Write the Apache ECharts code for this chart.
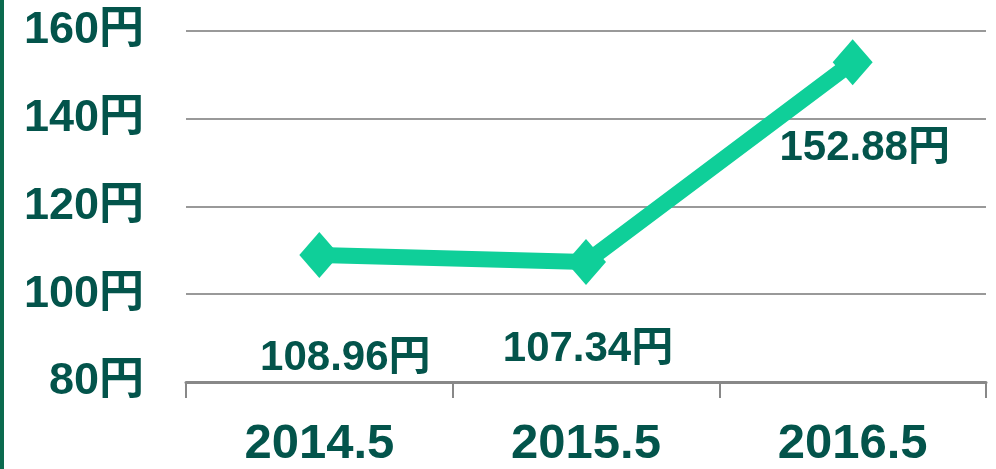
<!DOCTYPE html>
<html>
<head>
<meta charset="utf-8">
<script src="https://cdn.jsdelivr.net/npm/echarts@6/dist/echarts.min.js"></script>
<style>
  html, body { margin: 0; padding: 0; background: #fff; }
  #wrap { position: relative; width: 996px; height: 469px; }
  #bar { position: absolute; left: 0; top: 0; width: 4px; height: 469px; background: #0b6b4f; }
  #chart { position: absolute; left: 0; top: 0; width: 996px; height: 469px; }
</style>
</head>
<body>
<div id="wrap">
  <div id="chart"></div>
  <div id="bar"></div>
</div>
<script>
// 株価データ
const categories = ['2014.5', '2015.5', '2016.5'];
const prices = [108.96, 107.34, 152.88];
const yTicks = [80, 100, 120, 140, 160];

const textColor = '#03544b';
const lineColor = '#0fcf99';
const font = 'Liberation Sans, Noto Sans CJK JP';

// ラベルの位置ずれ (点からの距離)
const labelOffsets = [[26, 103], [2, 87], [12, 86]];

const chart = echarts.init(document.getElementById('chart'));

const option = {
  animation: false,
  grid: { left: 186, right: 10, top: 31, bottom: 85 },
  xAxis: {
    type: 'category',
    data: categories,
    boundaryGap: true,
    axisLine: { lineStyle: { color: '#888', width: 3 } },
    axisTick: { show: true, inside: false, length: 16, lineStyle: { color: '#888', width: 2 } },
    axisLabel: {
      margin: 38,
      color: textColor,
      fontFamily: font,
      fontWeight: 'bold',
      fontSize: 49
    }
  },
  yAxis: {
    type: 'value',
    min: yTicks[0],
    max: yTicks[yTicks.length - 1],
    interval: 20,
    axisLine: { show: false },
    axisTick: { show: false },
    splitLine: { lineStyle: { color: '#999', width: 2 } },
    axisLabel: {
      margin: 42,
      color: textColor,
      fontFamily: font,
      fontWeight: 'bold',
      fontSize: 45,
      formatter: v => v + '円'
    }
  },
  series: [{
    type: 'line',
    data: prices.map((v, i) => ({
      value: v,
      label: { offset: labelOffsets[i] }
    })),
    symbol: 'diamond',
    symbolSize: [40, 46],
    lineStyle: { color: lineColor, width: 16 },
    itemStyle: { color: lineColor },
    label: {
      show: true,
      position: 'inside',
      color: textColor,
      fontFamily: font,
      fontWeight: 'bold',
      fontSize: 42,
      formatter: p => p.value.toFixed(2) + '円'
    },
    z: 3
  }]
};

chart.setOption(option);
</script>
</body>
</html>
